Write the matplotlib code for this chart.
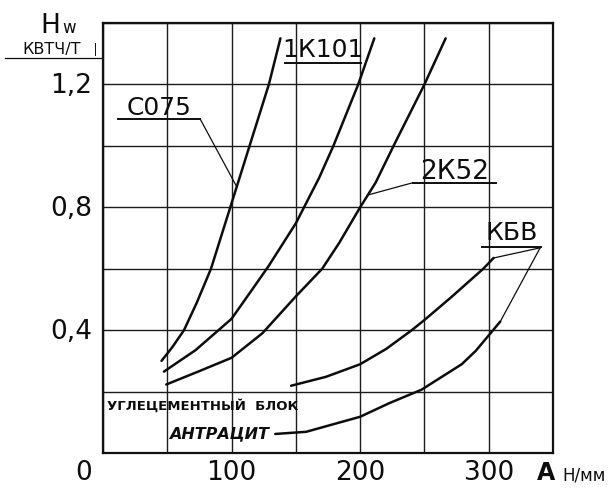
import matplotlib
matplotlib.use("Agg")
import matplotlib.pyplot as plt
from matplotlib.transforms import blended_transform_factory, offset_copy
from matplotlib.lines import Line2D

plt.rcParams["font.family"] = ["DejaVu Sans"]

# Specific energy H_w (kWh/t) versus electrode current load A (N/mm)
a_c075 = [45.5, 54.0, 63.0, 73.0, 84.0, 99.0, 114.0, 129.0, 138.0]
h_c075 = [0.30, 0.345, 0.40, 0.49, 0.60, 0.80, 1.00, 1.20, 1.35]

a_1k101 = [47.4, 72.0, 100.0, 116.0, 129.0, 150.0, 168.0, 179.2, 198.5, 211.0]
h_1k101 = [0.265, 0.335, 0.437, 0.532, 0.61, 0.748, 0.895, 1.00, 1.20, 1.35]

a_2k52 = [49.2, 74.0, 100.0, 124.0, 150.0, 170.5, 183.7, 200.0, 212.0, 226.0, 250.0, 266.5]
h_2k52 = [0.223, 0.265, 0.31, 0.39, 0.51, 0.60, 0.684, 0.80, 0.88, 1.00, 1.20, 1.35]

a_kbv_block = [146.3, 173.4, 200.0, 220.3, 240.2, 250.0, 270.5, 295.8, 303.8]
h_kbv_block = [0.219, 0.248, 0.289, 0.339, 0.400, 0.433, 0.506, 0.600, 0.635]

a_kbv_anthr = [134.0, 158.0, 200.0, 222.5, 247.7, 279.0, 290.0, 300.0, 309.0]
h_kbv_anthr = [0.062, 0.069, 0.118, 0.162, 0.206, 0.289, 0.333, 0.383, 0.428]

x_tick_values = [0, 100, 200, 300]
x_tick_labels = ["0", "100", "200", "300"]
y_tick_values = [0.4, 0.8, 1.2]
y_tick_labels = ["0,4", "0,8", "1,2"]

W, H = 611, 490
fig = plt.figure(figsize=(W / 100, H / 100), dpi=100)
fig.patch.set_facecolor("white")
ax = fig.add_axes([103 / W, 37 / H, 450 / W, 430 / H])
ax.set_xlim(0, 350)
ax.set_ylim(0, 1.4)

# drafting grid: every 50 N/mm and every 0.2 kWh/t
ax.set_xticks([i * 50 for i in range(8)])
ax.set_yticks([i * 0.2 for i in range(8)])
ax.tick_params(length=0, labelbottom=False, labelleft=False)
ax.grid(True, color="#1c1c1c", lw=1.0)
for sp in ax.spines.values():
    sp.set_linewidth(1.6)
    sp.set_color("#111111")

ink = "#0d0d0d"
curve_kw = dict(color=ink, lw=1.8, solid_capstyle="round", solid_joinstyle="round", zorder=3)
ax.plot(a_c075, h_c075, **curve_kw)
ax.plot(a_1k101, h_1k101, **curve_kw)
ax.plot(a_2k52, h_2k52, **curve_kw)
ax.plot(a_kbv_block, h_kbv_block, **curve_kw)
ax.plot(a_kbv_anthr, h_kbv_anthr, **curve_kw)

thin = dict(color=ink, lw=0.9, zorder=3)
lab = dict(color=ink, zorder=4)

# С075 label with underline and leader
ax.text(43.7, 1.10, "С075", fontsize=18, ha="center", va="baseline", **lab)
ax.plot([11.5, 75.5], [1.088, 1.088], color=ink, lw=1.4, zorder=3)
ax.plot([75.5, 104.0], [1.088, 0.867], **thin)

# 1К101 label
ax.text(171.0, 1.288, "1К101", fontsize=18, ha="center", va="baseline", **lab)
ax.plot([141.5, 201.0], [1.269, 1.269], color=ink, lw=1.4, zorder=3)

# 2К52 label with leader
ax.text(273.7, 0.891, "2К52", fontsize=19, ha="center", va="baseline", **lab)
ax.plot([241.0, 306.0], [0.880, 0.880], color=ink, lw=1.4, zorder=3)
ax.plot([241.0, 206.0], [0.880, 0.84], **thin)

# КБВ label with two leaders
ax.text(318.0, 0.694, "КБВ", fontsize=18, ha="center", va="baseline", **lab)
ax.plot([294.5, 341.0], [0.672, 0.672], color=ink, lw=1.4, zorder=3)
ax.plot([340.0, a_kbv_block[-1]], [0.668, h_kbv_block[-1]], **thin)
ax.plot([340.0, a_kbv_anthr[-1]], [0.668, h_kbv_anthr[-1]], **thin)

# material notes in the lower band
ax.text(3.0, 0.140, "УГЛЕЦЕМЕНТНЫЙ  БЛОК", fontsize=9.5, fontweight="bold",
        ha="left", va="baseline", **lab)
ax.text(129.0, 0.048, "АНТРАЦИТ", fontsize=11.5, fontweight="bold", style="italic",
        ha="right", va="baseline", **lab)

# tick labels
bx = blended_transform_factory(ax.transData, ax.transAxes)
by = blended_transform_factory(ax.transAxes, ax.transData)
for v, s in zip(x_tick_values, x_tick_labels):
    if v == 0:
        tr = offset_copy(bx, fig=fig, x=-11, y=-20, units="dots")
        ax.text(v, 0, s, fontsize=19, ha="right", va="center", transform=tr,
                color=ink, clip_on=False)
    else:
        tr = offset_copy(bx, fig=fig, x=0, y=-20, units="dots")
        ax.text(v, 0, s, fontsize=19, ha="center", va="center", transform=tr,
                color=ink, clip_on=False)
for v, s in zip(y_tick_values, y_tick_labels):
    tr = offset_copy(by, fig=fig, x=-11, y=-2, units="dots")
    ax.text(0, v, s, fontsize=19, ha="right", va="center", transform=tr,
            color=ink, clip_on=False)

# axis titles
def fp(x, y):
    return x / W, 1 - y / H

fig.text(*fp(537, 480), "А", fontsize=17, fontweight="bold", ha="left",
         va="baseline", color=ink)
fig.text(*fp(562, 480), "Н/мм", fontsize=12, ha="left", va="baseline", color=ink)

fig.text(*fp(40, 33), "H", fontsize=19, ha="left", va="baseline", color=ink)
fig.text(*fp(62, 33), "w", fontsize=12, ha="left", va="baseline", color=ink)
fig.text(*fp(22, 54), "КВТЧ/Т", fontsize=11.5, ha="left", va="baseline", color=ink)
fig.add_artist(Line2D([5 / W, 102 / W], [1 - 58 / H, 1 - 58 / H], color=ink, lw=0.9))
fig.add_artist(Line2D([95 / W, 95 / W], [1 - 43 / H, 1 - 55 / H], color=ink, lw=0.7))

fig.savefig("out.png", dpi=100, facecolor="white")
